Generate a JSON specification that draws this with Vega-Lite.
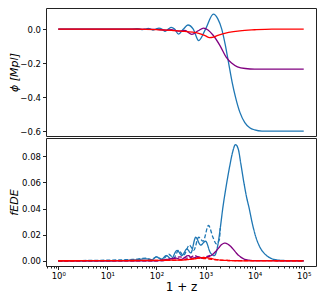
{
 "$schema": "https://vega.github.io/schema/vega-lite/v6.json",
 "padding": {"left": 7, "top": 7, "right": 5, "bottom": 5},
 "spacing": 0,
 "config": {
  "view": {"stroke": "#222", "strokeWidth": 1},
  "axis": {"grid": false, "domain": false, "tickColor": "#222", "labelFont": "DejaVu Sans", "titleFont": "DejaVu Sans", "labelColor": "#000", "titleColor": "#000", "titleFontWeight": "normal", "tickSize": 3.5, "labelPadding": 2, "labelFontSize": 8.5},
  "line": {"strokeWidth": 1.3}
 },
 "datasets": {
  "top": [
   {"s":"b","x":1,"y":0},{"s":"b","x":10,"y":0},{"s":"b","x":32,"y":0},{"s":"b","x":40,"y":0.002},{"s":"b","x":46,"y":0},{"s":"b","x":52,"y":-0.003},{"s":"b","x":60,"y":0},{"s":"b","x":68,"y":0.004},{"s":"b","x":76,"y":0},{"s":"b","x":85,"y":-0.006},{"s":"b","x":98,"y":0},{"s":"b","x":112,"y":0.006},{"s":"b","x":129,"y":0},{"s":"b","x":148,"y":-0.014},{"s":"b","x":174,"y":0},{"s":"b","x":200,"y":0.01},{"s":"b","x":234,"y":0},{"s":"b","x":282,"y":-0.03},{"s":"b","x":355,"y":0},{"s":"b","x":437,"y":0.024},{"s":"b","x":562,"y":0},{"s":"b","x":724,"y":-0.068},{"s":"b","x":1000,"y":0},{"s":"b","x":1445,"y":0.088},{"s":"b","x":1778,"y":0.06},{"s":"b","x":2138,"y":0},{"s":"b","x":2512,"y":-0.09},{"s":"b","x":2951,"y":-0.2},{"s":"b","x":3467,"y":-0.31},{"s":"b","x":4074,"y":-0.4},{"s":"b","x":5012,"y":-0.49},{"s":"b","x":6310,"y":-0.55},{"s":"b","x":7943,"y":-0.58},{"s":"b","x":10000,"y":-0.593},{"s":"b","x":14125,"y":-0.6},{"s":"b","x":100000,"y":-0.6},
   {"s":"p","x":1,"y":0},{"s":"p","x":32,"y":0},{"s":"p","x":100,"y":-0.002},{"s":"p","x":158,"y":-0.006},{"s":"p","x":200,"y":-0.003},{"s":"p","x":282,"y":-0.012},{"s":"p","x":380,"y":-0.008},{"s":"p","x":525,"y":-0.031},{"s":"p","x":708,"y":-0.01},{"s":"p","x":912,"y":0.006},{"s":"p","x":1122,"y":-0.005},{"s":"p","x":1413,"y":-0.035},{"s":"p","x":1995,"y":-0.1},{"s":"p","x":2630,"y":-0.165},{"s":"p","x":3388,"y":-0.2},{"s":"p","x":4467,"y":-0.222},{"s":"p","x":6457,"y":-0.232},{"s":"p","x":10000,"y":-0.235},{"s":"p","x":100000,"y":-0.235},
   {"s":"r","x":1,"y":0},{"s":"r","x":40,"y":0},{"s":"r","x":100,"y":-0.003},{"s":"r","x":200,"y":-0.008},{"s":"r","x":316,"y":-0.012},{"s":"r","x":724,"y":-0.025},{"s":"r","x":1000,"y":-0.04},{"s":"r","x":1200,"y":-0.05},{"s":"r","x":1450,"y":-0.047},{"s":"r","x":1778,"y":-0.037},{"s":"r","x":2951,"y":-0.02},{"s":"r","x":5012,"y":-0.01},{"s":"r","x":10000,"y":-0.004},{"s":"r","x":22387,"y":0},{"s":"r","x":100000,"y":0}
  ],
  "bot": [
   {"s":"b","d":"d","x":1,"y":0},{"s":"b","d":"d","x":32,"y":0.001},{"s":"b","d":"d","x":63,"y":0.002},{"s":"b","d":"d","x":79,"y":0.0008},{"s":"b","d":"d","x":100,"y":0.003},{"s":"b","d":"d","x":132,"y":0.001},{"s":"b","d":"d","x":178,"y":0.005},{"s":"b","d":"d","x":224,"y":0.002},{"s":"b","d":"d","x":282,"y":0.008},{"s":"b","d":"d","x":355,"y":0.004},{"s":"b","d":"d","x":468,"y":0.012},{"s":"b","d":"d","x":575,"y":0.008},{"s":"b","d":"d","x":724,"y":0.018},{"s":"b","d":"d","x":891,"y":0.015},{"s":"b","d":"d","x":1148,"y":0.027},{"s":"b","d":"d","x":1413,"y":0.018},{"s":"b","d":"d","x":1660,"y":0.013},{"s":"b","d":"d","x":1905,"y":0.016},{"s":"b","d":"d","x":1995,"y":0.025},
   {"s":"b","d":"s","x":1,"y":0},{"s":"b","d":"s","x":10,"y":0},{"s":"b","d":"s","x":32,"y":0.0005},{"s":"b","d":"s","x":63,"y":0.0015},{"s":"b","d":"s","x":79,"y":0.0005},{"s":"b","d":"s","x":100,"y":0.003},{"s":"b","d":"s","x":126,"y":0.001},{"s":"b","d":"s","x":158,"y":0.004},{"s":"b","d":"s","x":200,"y":0.0015},{"s":"b","d":"s","x":263,"y":0.008},{"s":"b","d":"s","x":331,"y":0.004},{"s":"b","d":"s","x":417,"y":0.009},{"s":"b","d":"s","x":501,"y":0.006},{"s":"b","d":"s","x":631,"y":0.018},{"s":"b","d":"s","x":794,"y":0.012},{"s":"b","d":"s","x":1000,"y":0.015},{"s":"b","d":"s","x":1259,"y":0.006},{"s":"b","d":"s","x":1514,"y":0.004},{"s":"b","d":"s","x":1778,"y":0.012},{"s":"b","d":"s","x":1995,"y":0.025},{"s":"b","d":"s","x":2239,"y":0.04},{"s":"b","d":"s","x":2630,"y":0.057},{"s":"b","d":"s","x":3090,"y":0.072},{"s":"b","d":"s","x":3548,"y":0.083},{"s":"b","d":"s","x":4074,"y":0.089},{"s":"b","d":"s","x":4677,"y":0.085},{"s":"b","d":"s","x":5248,"y":0.074},{"s":"b","d":"s","x":6026,"y":0.06},{"s":"b","d":"s","x":6918,"y":0.048},{"s":"b","d":"s","x":7762,"y":0.04},{"s":"b","d":"s","x":8913,"y":0.029},{"s":"b","d":"s","x":10233,"y":0.02},{"s":"b","d":"s","x":12589,"y":0.011},{"s":"b","d":"s","x":15849,"y":0.0055},{"s":"b","d":"s","x":19953,"y":0.0025},{"s":"b","d":"s","x":25119,"y":0.001},{"s":"b","d":"s","x":39811,"y":0.0002},{"s":"b","d":"s","x":100000,"y":0},
   {"s":"p","d":"d","x":1,"y":0},{"s":"p","d":"d","x":120,"y":0},{"s":"p","d":"d","x":200,"y":0.001},{"s":"p","d":"d","x":300,"y":0.003},{"s":"p","d":"d","x":450,"y":0.002},{"s":"p","d":"d","x":600,"y":0.004},{"s":"p","d":"d","x":800,"y":0.002},{"s":"p","d":"d","x":1000,"y":0.003},{"s":"p","d":"d","x":1413,"y":0.005},
   {"s":"p","d":"s","x":1,"y":0},{"s":"p","d":"s","x":100,"y":0},{"s":"p","d":"s","x":158,"y":0.001},{"s":"p","d":"s","x":251,"y":0.002},{"s":"p","d":"s","x":316,"y":0.001},{"s":"p","d":"s","x":447,"y":0.004},{"s":"p","d":"s","x":525,"y":0.002},{"s":"p","d":"s","x":708,"y":0.003},{"s":"p","d":"s","x":891,"y":0.002},{"s":"p","d":"s","x":1122,"y":0.003},{"s":"p","d":"s","x":1413,"y":0.005},{"s":"p","d":"s","x":1778,"y":0.009},{"s":"p","d":"s","x":2138,"y":0.0125},{"s":"p","d":"s","x":2512,"y":0.0135},{"s":"p","d":"s","x":3020,"y":0.012},{"s":"p","d":"s","x":3631,"y":0.009},{"s":"p","d":"s","x":4467,"y":0.005},{"s":"p","d":"s","x":5623,"y":0.002},{"s":"p","d":"s","x":7079,"y":0.0007},{"s":"p","d":"s","x":10000,"y":0.0001},{"s":"p","d":"s","x":100000,"y":0},
   {"s":"r","d":"d","x":1,"y":0},{"s":"r","d":"d","x":200,"y":0.0003},{"s":"r","d":"d","x":400,"y":0.001},{"s":"r","d":"d","x":700,"y":0.002},{"s":"r","d":"d","x":1100,"y":0.0015},{"s":"r","d":"d","x":1600,"y":0.0008},{"s":"r","d":"d","x":3000,"y":0.0002},{"s":"r","d":"d","x":100000,"y":0},
   {"s":"r","d":"s","x":1,"y":0},{"s":"r","d":"s","x":300,"y":0.0005},{"s":"r","d":"s","x":600,"y":0.0015},{"s":"r","d":"s","x":900,"y":0.0025},{"s":"r","d":"s","x":1200,"y":0.002},{"s":"r","d":"s","x":1600,"y":0.001},{"s":"r","d":"s","x":2500,"y":0.0003},{"s":"r","d":"s","x":5000,"y":0},{"s":"r","d":"s","x":100000,"y":0}
  ]
 },
 "vconcat": [
  {
   "width": 270, "height": 128,
   "data": {"name": "top"},
   "mark": {"type": "line", "interpolate": "monotone", "clip": true},
   "encoding": {
    "x": {"field": "x", "type": "quantitative", "scale": {"type": "log", "domain": [0.562, 177828], "nice": false}, "axis": null},
    "y": {"field": "y", "type": "quantitative", "scale": {"domain": [-0.629, 0.124], "nice": false, "zero": false},
          "axis": {"values": [-0.6, -0.4, -0.2, 0], "format": ".1f", "title": "ϕ  [Mpl]", "titleFontSize": 11, "titleFontStyle": "italic", "minExtent": 24, "maxExtent": 24, "titlePadding": 3}},
    "color": {"field": "s", "type": "nominal", "scale": {"domain": ["b", "p", "r"], "range": ["#1f77b4", "#800080", "#ff0000"]}, "legend": null}
   }
  },
  {
   "width": 270, "height": 128,
   "data": {"name": "bot"},
   "mark": {"type": "line", "interpolate": "monotone", "clip": true},
   "encoding": {
    "x": {"field": "x", "type": "quantitative", "scale": {"type": "log", "domain": [0.562, 177828], "nice": false},
          "axis": {"values": [0.6,0.7,0.8,0.9,1,2,3,4,5,6,7,8,9,10,20,30,40,50,60,70,80,90,100,200,300,400,500,600,700,800,900,1000,2000,3000,4000,5000,6000,7000,8000,9000,10000,20000,30000,40000,50000,60000,70000,80000,90000,100000],
                   "labelExpr": "abs(log(datum.value)/LN10 - round(log(datum.value)/LN10)) < 0.001 ? '10' + ['⁰','¹','²','³','⁴','⁵'][round(log(datum.value)/LN10)] : ''",
                   "tickSize": {"condition": {"test": "abs(log(datum.value)/LN10 - round(log(datum.value)/LN10)) < 0.001", "value": 3.5}, "value": 2},
                   "labelOverlap": false, "labelBound": false, "labelFontSize": 8.5, "title": "1 + z", "titleFontSize": 12, "titlePadding": 1}},
    "y": {"field": "y", "type": "quantitative", "scale": {"domain": [-0.004, 0.094], "nice": false, "zero": false},
          "axis": {"values": [0, 0.02, 0.04, 0.06, 0.08], "format": ".2f", "title": "fEDE", "titleFontSize": 11, "titleFontStyle": "italic", "minExtent": 24, "maxExtent": 24, "titlePadding": 3}},
    "color": {"field": "s", "type": "nominal", "scale": {"domain": ["b", "p", "r"], "range": ["#1f77b4", "#800080", "#ff0000"]}, "legend": null},
    "strokeDash": {"field": "d", "type": "nominal", "scale": {"domain": ["s", "d"], "range": [[1, 0], [4, 2]]}, "legend": null}
   }
  }
 ]
}
